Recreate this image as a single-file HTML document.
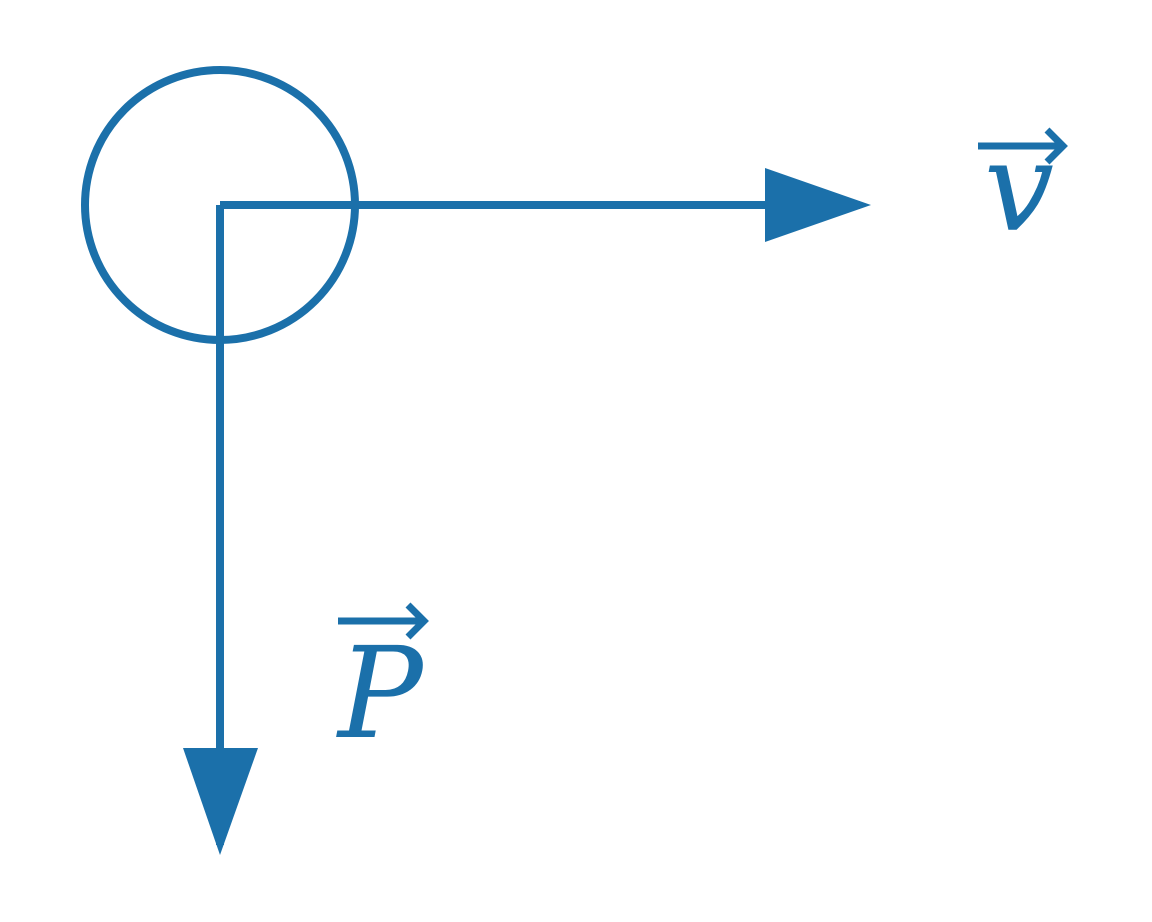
<!DOCTYPE html>
<html><head><meta charset="utf-8"><style>html,body{margin:0;padding:0;background:#fff;}svg{display:block}</style></head>
<body>
<svg width="1152" height="922" viewBox="0 0 1152 922" xmlns="http://www.w3.org/2000/svg">
<g stroke="#1b70aa" fill="none" stroke-width="8">
<circle cx="220" cy="205" r="135"/>
<line x1="220" y1="205" x2="860" y2="205"/>
<line x1="220" y1="205" x2="220" y2="845"/>
<line x1="978" y1="146" x2="1062" y2="146" stroke-width="7"/>
<polyline points="1047,130 1063,146 1047,162" stroke-width="7"/>
<line x1="338" y1="621" x2="422" y2="621" stroke-width="7"/>
<polyline points="408,605 424,621 408,637" stroke-width="7"/>
</g>
<g fill="#1b70aa">
<polygon points="765,168 871,205 765,242"/>
<polygon points="183,748 258,748 220,855"/>
<text x="984" y="230" font-family="DejaVu Serif" font-style="italic" font-size="124">v</text>
<text x="338" y="737" font-family="DejaVu Serif" font-style="italic" font-size="126">P</text>
</g>
</svg>
</body></html>
